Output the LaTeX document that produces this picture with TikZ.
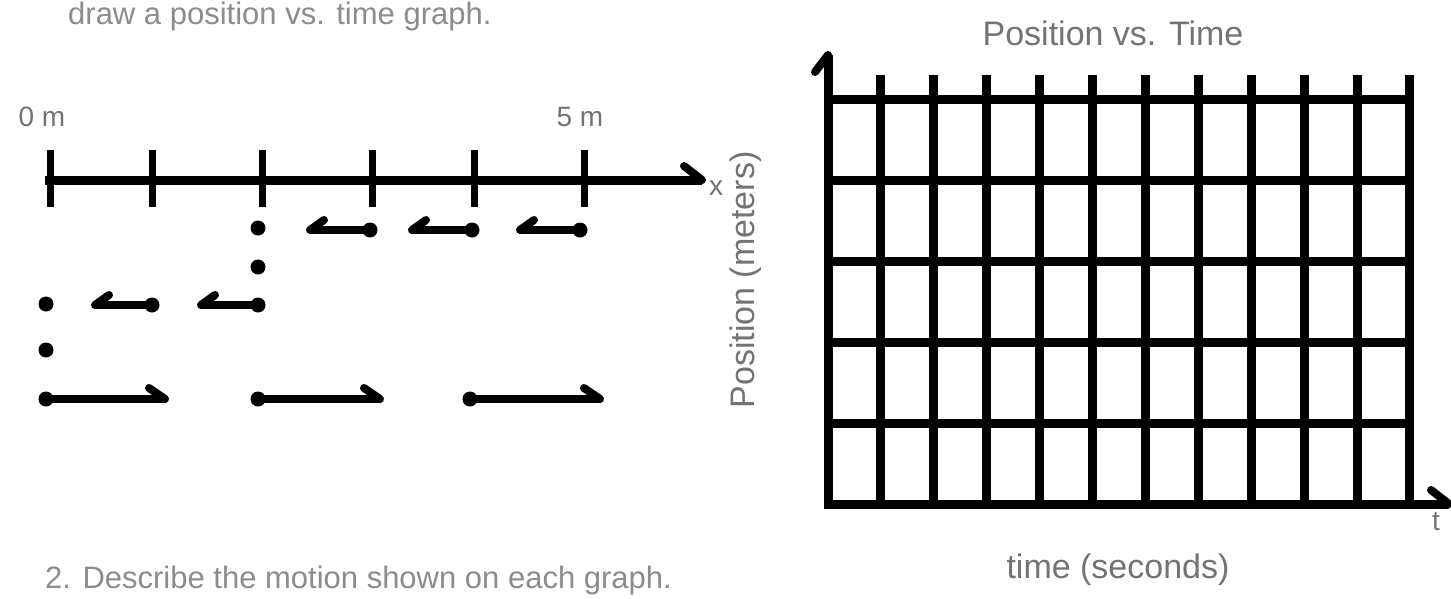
\documentclass[tikz,border=0pt]{standalone}
\usepackage{fontspec}
\setmainfont{Liberation Sans}
\begin{document}
\begin{tikzpicture}[x=1pt,y=-1pt,
  heavy/.style={line width=9pt, draw=black},
  gridl/.style={line width=9pt, draw=black},
  barb/.style={line width=8pt, draw=black, line cap=round},
  mline/.style={line width=8pt, draw=black},
  dotn/.style={circle, fill=black, inner sep=0pt, minimum size=15pt},
  lab/.style={text=black!55, font=\fontsize{34}{40}\selectfont, inner sep=0pt},
  edgelab/.style={text=black!45, font=\fontsize{31}{34}\selectfont, inner sep=0pt},
  smalllab/.style={text=black!55, font=\fontsize{28}{32}\selectfont, inner sep=0pt}]
\useasboundingbox (0,0) rectangle (1451,598);
\fill[white] (0,0) rectangle (1451,598);

% top text
\node[edgelab, anchor=north west] (toptext) at (68,2) {draw a position vs. time graph.};

% number line
\coordinate (nl0) at (45,180);
\coordinate (nl1) at (702,180);
\draw[heavy] (nl0) -- (nl1);
\draw[barb] (nl1) -- ++(-18,-14);
\foreach \t/\xx in {0/50,1/152,2/262,3/372,4/474,5/584}{
  \coordinate (tk\t) at (\xx,150);
  \draw[line width=7pt] (tk\t) -- ++(0,57);
}
\node[smalllab] (zero) at (42,117) {0 m};
\node[smalllab] (five) at (580,117) {5 m};
\node[smalllab] (xlab) at (716,188) {x};

% motion row 1
\node[dotn] (r1a) at (258,228) {};
\node[dotn] (r1b) at (258,267) {};
\foreach \n/\xx in {c/370,d/472,e/580}{
  \node[dotn] (r1\n) at (\xx,230) {};
  \coordinate (r1\n L) at ({\xx-60},230);
  \draw[mline] (r1\n.center) -- (r1\n L);
  \draw[barb] (r1\n L) -- ++(14,-10);
}
% motion row 2
\node[dotn] (r2a) at (46,304) {};
\foreach \n/\xx in {b/152,c/258}{
  \node[dotn] (r2\n) at (\xx,305) {};
  \coordinate (r2\n L) at ({\xx-57},305);
  \draw[mline] (r2\n.center) -- (r2\n L);
  \draw[barb] (r2\n L) -- ++(14,-10);
}
% motion row 3
\node[dotn] (r3a) at (46,350) {};
% motion row 4
\foreach \n/\xa/\xb in {a/46/165,b/258/380,c/470/600}{
  \node[dotn] (r4\n) at (\xa,399) {};
  \coordinate (r4\n R) at (\xb,399);
  \draw[mline] (r4\n.center) -- (r4\n R);
  \draw[barb] (r4\n R) -- ++(-16,-11);
}

% graph grid
\foreach \k in {1,...,11}{
  \draw[gridl] ({828+52.9*\k},75) -- ({828+52.9*\k},505);
}
\foreach \j in {0,...,4}{
  \draw[gridl] (828,{99+81.2*\j}) -- (1410,{99+81.2*\j});
}
\coordinate (orig) at (828,504);
\coordinate (ytop) at (828,55);
\coordinate (xend) at (1449,504);
\draw[heavy] (orig) -- (ytop);
\draw[barb] (ytop) -- ++(-13,17);
\draw[heavy] ([xshift=-4.5pt]orig) -- (xend);
\draw[barb] (xend) -- ++(-18,-14);

\node[lab] (title) at (1113,33) {Position vs. Time};
\node[lab] (xaxlab) at (1118,570) {time (seconds)};
\node[lab, rotate=90] (yaxlab) at (746,280) {Position (meters)};
\node[smalllab] (tlab) at (1436,522) {t};

% bottom text
\node[edgelab, anchor=south west] (bottext) at (45,595) {2. Describe the motion shown on each graph.};
\end{tikzpicture}
\end{document}
